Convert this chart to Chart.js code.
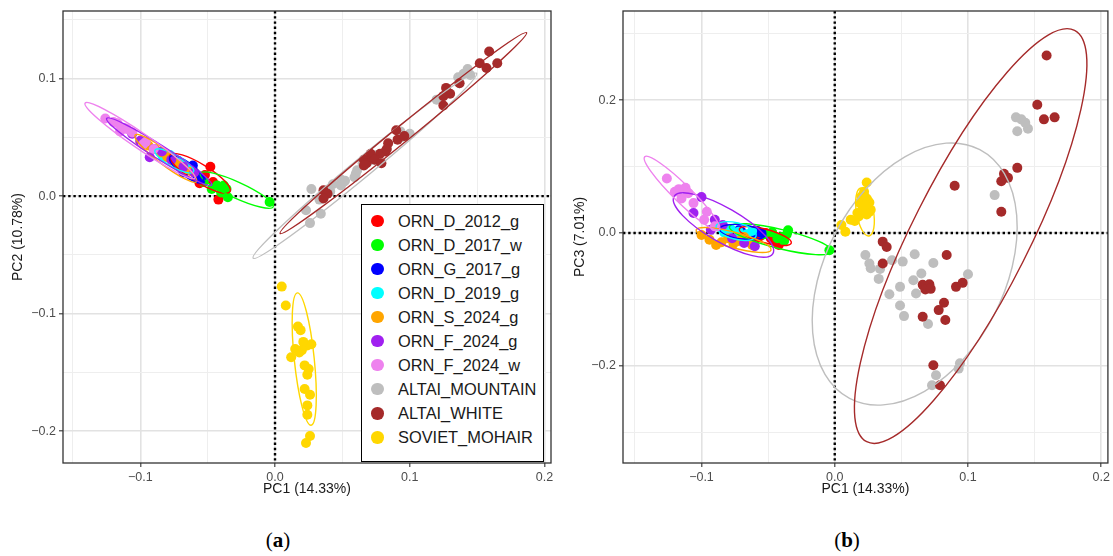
<!DOCTYPE html>
<html>
<head>
<meta charset="utf-8">
<script src="https://cdn.jsdelivr.net/npm/chart.js@4.4.1/dist/chart.umd.min.js"></script>
<style>
  body { margin: 0; background: #fff; width: 1113px; height: 556px; position: relative; overflow: hidden; font-family: "Liberation Sans", Arial, sans-serif; }
  #panelA { position: absolute; left: 0; top: 0; }
  #panelB { position: absolute; left: 560px; top: 0; }
  #legende { position: absolute; left: 361px; top: 204px; width: 183px; height: 258px; box-sizing: border-box; border: 1.6px solid #000; background: #fff; }
  .item { position: absolute; left: 0; height: 24px; line-height: 24px; font-size: 16.4px; color: #1a1a1a; white-space: nowrap; }
  .item span.pt { position: absolute; left: 9px; top: 6px; width: 12.5px; height: 12.5px; border-radius: 50%; }
  .item span.txt { position: absolute; left: 36px; top: 0; }
  .cap { position: absolute; top: 528px; width: 60px; text-align: center; font-family: "Liberation Serif", serif; font-size: 21px; color: #000; }
</style>
</head>
<body>
<canvas id="panelA" width="560" height="500"></canvas>
<canvas id="panelB" width="553" height="500"></canvas>
<div id="legende"></div>
<div class="cap" style="left:248px">(<b>a</b>)</div>
<div class="cap" style="left:817px">(<b>b</b>)</div>
<script>
// groupes, dans l'ordre de la légende
const groupes = ["ORN_D_2012_g", "ORN_D_2017_w", "ORN_G_2017_g", "ORN_D_2019_g", "ORN_S_2024_g",
  "ORN_F_2024_g", "ORN_F_2024_w", "ALTAI_MOUNTAIN", "ALTAI_WHITE", "SOVIET_MOHAIR"];
const couleurs = ["#FF0000", "#00FF00", "#0000FF", "#00FFFF", "#FFA500",
  "#A020F0", "#EE82EE", "#BEBEBE", "#A52A2A", "#FFD700"];

// chaque échantillon : [PC1, PC2, PC3]
const ORN_D_2012_g = [
  [-0.048, 0.025, -0.008], [-0.042, -0.003, -0.018], [-0.056, 0.011, -0.005], [-0.052, 0.018, 0.000],
  [-0.060, 0.020, -0.010], [-0.046, 0.012, -0.012], [-0.064, 0.024, -0.003]
];
const ORN_D_2017_w = [
  [-0.035, -0.001, 0.004], [-0.004, -0.005, -0.026], [-0.053, 0.012, -0.002], [-0.043, 0.009, -0.008],
  [-0.038, 0.009, -0.012], [-0.047, 0.006, 0.001], [-0.040, 0.003, -0.006], [-0.036, 0.006, -0.002]
];
const ORN_G_2017_g = [
  [-0.070, 0.028, 0.002], [-0.064, 0.022, -0.003], [-0.058, 0.018, 0.003], [-0.068, 0.020, -0.005],
  [-0.061, 0.026, -0.001], [-0.055, 0.014, 0.000], [-0.072, 0.030, 0.004]
];
const ORN_D_2019_g = [
  [-0.078, 0.035, 0.006], [-0.072, 0.030, 0.002], [-0.066, 0.025, -0.002], [-0.083, 0.033, 0.001],
  [-0.070, 0.028, -0.004], [-0.062, 0.022, 0.003]
];
const ORN_S_2024_g = [
  [-0.100, 0.046, -0.003], [-0.089, 0.040, -0.018], [-0.062, 0.021, -0.018], [-0.094, 0.043, -0.010],
  [-0.080, 0.033, -0.008], [-0.072, 0.027, -0.012], [-0.085, 0.037, -0.014], [-0.068, 0.022, -0.006],
  [-0.076, 0.030, -0.016]
];
const ORN_F_2024_g = [
  [-0.100, 0.047, 0.054], [-0.093, 0.033, 0.005], [-0.106, 0.053, 0.030], [-0.084, 0.038, 0.012],
  [-0.077, 0.031, -0.008], [-0.068, 0.025, -0.015], [-0.090, 0.040, 0.020], [-0.060, 0.020, -0.020]
];
const ORN_F_2024_w = [
  [-0.126, 0.066, 0.082], [-0.117, 0.062, 0.066], [-0.112, 0.058, 0.068], [-0.115, 0.055, 0.052],
  [-0.110, 0.057, 0.060], [-0.106, 0.054, 0.045], [-0.096, 0.046, 0.032], [-0.098, 0.044, 0.020],
  [-0.120, 0.063, 0.062], [-0.090, 0.040, 0.010]
];
const ALTAI_MOUNTAIN = [
  [0.136, 0.101, 0.174], [0.140, 0.104, 0.171], [0.145, 0.103, 0.157], [0.137, 0.096, 0.153],
  [0.143, 0.108, 0.166], [0.120, 0.082, 0.057], [0.023, -0.012, -0.033], [0.026, -0.023, -0.046],
  [0.027, 0.006, -0.053], [0.033, -0.003, -0.069], [0.043, 0.010, -0.041], [0.051, 0.012, -0.043],
  [0.060, 0.019, -0.032], [0.074, 0.031, -0.045], [0.065, 0.028, -0.061], [0.059, 0.016, -0.071],
  [0.049, 0.014, -0.081], [0.041, 0.004, -0.092], [0.061, 0.022, -0.091], [0.049, 0.009, -0.109],
  [0.052, 0.013, -0.125], [0.070, 0.030, -0.137], [0.100, 0.053, -0.062], [0.094, 0.050, -0.196],
  [0.093, 0.055, -0.204], [0.076, 0.035, -0.214], [0.073, 0.034, -0.229], [0.034, -0.015, -0.054]
];
const ALTAI_WHITE = [
  [0.159, 0.123, 0.267], [0.152, 0.113, 0.193], [0.157, 0.109, 0.171], [0.165, 0.113, 0.174],
  [0.137, 0.096, 0.098], [0.127, 0.092, 0.089], [0.130, 0.087, 0.083], [0.125, 0.085, 0.078],
  [0.125, 0.077, 0.032], [0.090, 0.056, 0.071], [0.036, 0.005, -0.013], [0.039, 0.002, -0.021],
  [0.036, -0.002, -0.046], [0.084, 0.045, -0.033], [0.066, 0.031, -0.078], [0.071, 0.036, -0.077],
  [0.068, 0.028, -0.085], [0.072, 0.033, -0.084], [0.091, 0.048, -0.081], [0.096, 0.051, -0.075],
  [0.082, 0.038, -0.105], [0.078, 0.036, -0.116], [0.083, 0.040, -0.131], [0.066, 0.026, -0.126],
  [0.074, 0.031, -0.199], [0.079, 0.028, -0.229]
];
const SOVIET_MOHAIR = [
  [0.005, -0.077, 0.012], [0.008, -0.093, 0.002], [0.017, -0.111, 0.030], [0.019, -0.114, 0.045],
  [0.021, -0.124, 0.040], [0.024, -0.127, 0.052], [0.027, -0.126, 0.035], [0.020, -0.131, 0.055],
  [0.018, -0.133, 0.025], [0.012, -0.137, 0.020], [0.022, -0.144, 0.038], [0.025, -0.147, 0.048],
  [0.024, -0.152, 0.028], [0.022, -0.164, 0.062], [0.026, -0.169, 0.046], [0.024, -0.178, 0.035],
  [0.024, -0.186, 0.076], [0.026, -0.204, 0.032], [0.023, -0.210, 0.042], [0.015, -0.130, 0.018]
];
const echantillons = [ORN_D_2012_g, ORN_D_2017_w, ORN_G_2017_g, ORN_D_2019_g, ORN_S_2024_g,
  ORN_F_2024_g, ORN_F_2024_w, ALTAI_MOUNTAIN, ALTAI_WHITE, SOVIET_MOHAIR];

// ellipses : [centre x, centre y, bout du grand axe x, bout du grand axe y, rapport petit/grand axe]
const ellipsesPC2 = [
  [-0.0557, 0.0193, -0.0780, 0.0349, 0.26],
  [-0.0284, 0.0051, -0.0013, -0.0091, 0.20],
  [-0.0656, 0.0228, -0.0780, 0.0334, 0.33],
  [-0.0748, 0.0299, -0.0891, 0.0391, 0.28],
  [-0.0811, 0.0321, -0.1039, 0.0519, 0.18],
  [-0.0860, 0.0377, -0.1250, 0.0661, 0.11],
  [-0.1002, 0.0472, -0.1410, 0.0791, 0.12],
  [0.0667, 0.0258, 0.1497, 0.1044, 0.065],
  [0.0953, 0.0536, 0.1868, 0.1390, 0.05],
  [0.0217, -0.1386, 0.0166, -0.0823, 0.15]
];
const ellipsesPC3 = [
  [-0.0521, -0.0045, -0.0716, 0.0060, 0.25],
  [-0.0404, -0.0093, -0.0018, -0.0281, 0.18],
  [-0.0691, 0.0015, -0.0865, 0.0060, 0.30],
  [-0.0740, 0.0030, -0.0890, 0.0105, 0.40],
  [-0.0759, -0.0105, -0.1040, 0.0045, 0.20],
  [-0.0835, 0.0120, -0.1206, 0.0549, 0.30],
  [-0.1146, 0.0597, -0.1426, 0.1147, 0.17],
  [0.0600, -0.0617, 0.1089, 0.1254, 0.636],
  [0.1020, -0.0045, 0.1800, 0.3050, 0.253],
  [0.0227, 0.0316, 0.0196, 0.0677, 0.35]
];

const etiquette = (v, pas) => {
  if (Math.abs(v / pas - Math.round(v / pas)) > 1e-6) return "";
  if (Math.abs(v) < 1e-9) return "0.0";
  return v.toFixed(1).replace("-", "\u2212");
};
const estMajeur = (v, pas) => Math.abs(v / pas - Math.round(v / pas)) < 1e-6;

const cadre = {
  id: "cadre",
  beforeDatasetsDraw(chart) {
    const { ctx, chartArea: a, scales: { x, y } } = chart;
    const x0 = x.getPixelForValue(0), y0 = y.getPixelForValue(0);
    ctx.save();
    ctx.strokeStyle = "#000";
    ctx.lineWidth = 2.4;
    ctx.setLineDash([2.4, 2.8]);
    ctx.beginPath();
    ctx.moveTo(x0, a.top); ctx.lineTo(x0, a.bottom);
    ctx.moveTo(a.left, y0); ctx.lineTo(a.right, y0);
    ctx.stroke();
    ctx.restore();
  },
  afterDatasetsDraw(chart, args, opts) {
    const { ctx, chartArea: a, scales: { x, y } } = chart;
    ctx.save();
    ctx.beginPath();
    ctx.rect(a.left, a.top, a.width, a.height);
    ctx.clip();
    opts.ellipses.forEach((e, i) => {
      const cx = x.getPixelForValue(e[0]), cy = y.getPixelForValue(e[1]);
      const tx = x.getPixelForValue(e[2]), ty = y.getPixelForValue(e[3]);
      const r = Math.hypot(tx - cx, ty - cy);
      ctx.beginPath();
      ctx.ellipse(cx, cy, r, r * e[4], Math.atan2(ty - cy, tx - cx), 0, 2 * Math.PI);
      ctx.strokeStyle = couleurs[i];
      ctx.lineWidth = 1.4;
      ctx.stroke();
    });
    ctx.restore();
    ctx.save();
    ctx.strokeStyle = "#333";
    ctx.lineWidth = 1.3;
    ctx.strokeRect(a.left, a.top, a.width, a.height);
    ctx.restore();
  }
};

function axe(min, max, pas, majeur, titre, horizontal, padTitre) {
  return {
    type: "linear",
    min: min,
    max: max,
    afterFit: (s) => { if (horizontal) s.height = 37; else s.width = 63; },
    border: { display: false },
    grid: {
      color: (c) => estMajeur(c.tick.value, majeur) ? "#E2E2E2" : "#EEEEEE",
      lineWidth: (c) => estMajeur(c.tick.value, majeur) ? 1.6 : 1.0,
      tickColor: (c) => estMajeur(c.tick.value, majeur) ? "#333" : "rgba(0,0,0,0)",
      tickLength: 4,
      tickWidth: 1.1
    },
    ticks: {
      stepSize: pas,
      includeBounds: false,
      autoSkip: false,
      maxRotation: 0,
      padding: 3,
      color: "#4D4D4D",
      font: { family: "Liberation Sans", size: 12.5 },
      callback: (v) => etiquette(v, majeur)
    },
    title: {
      display: true,
      text: titre,
      color: "#1a1a1a",
      font: { family: "Liberation Sans", size: 14 },
      padding: padTitre
    }
  };
}

function panneau(id, colonne, ellipses, xr, yr, yPas, yMajeur, yTitre, droite, padY) {
  const datasets = groupes.map((nom, i) => ({
    label: nom,
    data: echantillons[i].map((e) => ({ x: e[0], y: e[colonne] })),
    backgroundColor: couleurs[i],
    borderWidth: 0,
    pointRadius: 5,
    pointHoverRadius: 5,
    order: groupes.length - i
  }));
  return new Chart(document.getElementById(id), {
    type: "scatter",
    data: { datasets: datasets },
    options: {
      responsive: false,
      animation: false,
      layout: { padding: { top: 11, right: droite, left: 0, bottom: 0 } },
      plugins: {
        legend: { display: false },
        tooltip: { enabled: false },
        cadre: { ellipses: ellipses }
      },
      scales: {
        x: axe(xr[0], xr[1], 0.05, 0.1, "PC1 (14.33%)", true, { top: 4, bottom: 2 }),
        y: axe(yr[0], yr[1], yPas, yMajeur, yTitre, false, { top: padY, bottom: 4 })
      }
    },
    plugins: [cadre]
  });
}

panneau("panelA", 1, ellipsesPC2, [-0.1574, 0.2049], [-0.227, 0.1574], 0.05, 0.1, "PC2 (10.78%)", 9, 10);
panneau("panelB", 2, ellipsesPC3, [-0.1589, 0.2050], [-0.346, 0.334], 0.1, 0.2, "PC3 (7.01%)", 3, 12);

// légende
const legende = document.getElementById("legende");
groupes.forEach((nom, i) => {
  const div = document.createElement("div");
  div.className = "item";
  div.style.top = (3.5 + i * 24.07) + "px";
  div.innerHTML = `<span class="pt" style="background:${couleurs[i]}"></span><span class="txt">${nom}</span>`;
  legende.appendChild(div);
});
</script>
</body>
</html>
